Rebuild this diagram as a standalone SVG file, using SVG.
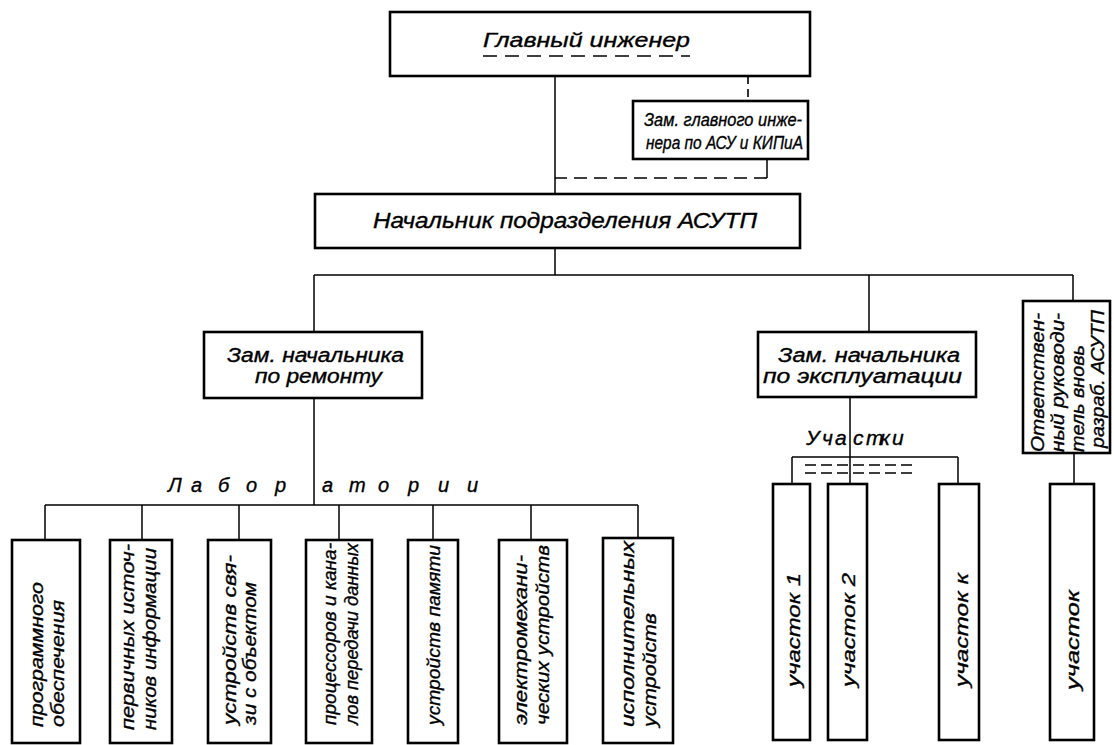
<svg xmlns="http://www.w3.org/2000/svg" width="1114" height="745" viewBox="0 0 1114 745">
<style>
.box{fill:#fff;stroke:#000;stroke-width:2.6}
.ln{fill:none;stroke:#000;stroke-width:1.5}
.dash{fill:none;stroke:#000;stroke-width:1.6;stroke-dasharray:13 7}
.t{font-family:"Liberation Sans",Arial,sans-serif;font-style:italic;fill:#000;stroke:#000;stroke-width:0.35}
.h{font-size:20px}
.m{font-size:18px}
.r{font-size:19px}
</style>
<rect width="1114" height="745" fill="#fff"/>
<g id="connectors">
<line class="ln" x1="555" y1="76" x2="555" y2="194"/>
<line class="dash" x1="748" y1="76" x2="748" y2="101" style="stroke-dasharray:8 5"/>
<line class="ln" x1="767" y1="159" x2="767" y2="178"/>
<line class="dash" x1="767" y1="178" x2="555" y2="178"/>
<line class="ln" x1="555" y1="248" x2="555" y2="275"/>
<line class="ln" x1="314" y1="275" x2="1073" y2="275"/>
<line class="ln" x1="314" y1="275" x2="314" y2="332"/>
<line class="ln" x1="869" y1="275" x2="869" y2="332"/>
<line class="ln" x1="1073" y1="275" x2="1073" y2="301"/>
<line class="ln" x1="314" y1="398" x2="314" y2="505"/>
<line class="ln" x1="45" y1="505" x2="638" y2="505"/>
<line class="ln" x1="45" y1="505" x2="45" y2="540"/>
<line class="ln" x1="142" y1="505" x2="142" y2="540"/>
<line class="ln" x1="239" y1="505" x2="239" y2="540"/>
<line class="ln" x1="339" y1="505" x2="339" y2="540"/>
<line class="ln" x1="433" y1="505" x2="433" y2="540"/>
<line class="ln" x1="531" y1="505" x2="531" y2="540"/>
<line class="ln" x1="638" y1="505" x2="638" y2="538"/>
<line class="ln" x1="850" y1="397" x2="850" y2="484"/>
<line class="ln" x1="792" y1="457" x2="958" y2="457"/>
<line class="ln" x1="792" y1="457" x2="792" y2="484"/>
<line class="ln" x1="958" y1="457" x2="958" y2="484"/>
<line class="dash" x1="805" y1="465" x2="913" y2="465" style="stroke-dasharray:11 5"/>
<line class="dash" x1="805" y1="473" x2="913" y2="473" style="stroke-dasharray:11 5"/>
<line class="ln" x1="1074" y1="453" x2="1074" y2="484"/>
</g>
<g id="chief-engineer">
<rect class="box" x="390" y="12" width="420" height="64"/>
<text class="t" style="font-size:21px" x="483" y="47" textLength="207" lengthAdjust="spacingAndGlyphs">Главный  инженер</text>
<line class="dash" x1="483" y1="56" x2="690" y2="56" style="stroke-dasharray:14 8"/>
</g>
<g id="deputy-chief-engineer">
<rect class="box" x="633" y="101" width="175" height="58"/>
<text class="t m" x="644" y="126" textLength="158" lengthAdjust="spacingAndGlyphs">Зам. главного инже-</text>
<text class="t m" x="646" y="149" textLength="157" lengthAdjust="spacingAndGlyphs">нера по АСУ и КИПиА</text>
</g>
<g id="head-asutp">
<rect class="box" x="315" y="194" width="485" height="54"/>
<text class="t" style="font-size:22px" x="373" y="228" textLength="384" lengthAdjust="spacingAndGlyphs">Начальник  подразделения  АСУТП</text>
</g>
<g id="deputy-repair">
<rect class="box" x="204" y="332" width="218" height="66"/>
<text class="t h" x="227" y="362" textLength="177" lengthAdjust="spacingAndGlyphs">Зам. начальника</text>
<text class="t h" x="255" y="383" textLength="127" lengthAdjust="spacingAndGlyphs">по ремонту</text>
</g>
<g id="deputy-operation">
<rect class="box" x="758" y="332" width="218" height="65"/>
<text class="t h" x="778" y="362" textLength="182" lengthAdjust="spacingAndGlyphs">Зам. начальника</text>
<text class="t h" x="763" y="383" textLength="199" lengthAdjust="spacingAndGlyphs">по эксплуатации</text>
</g>
<g id="responsible-new">
<rect class="box" x="1023" y="301" width="87" height="152"/>
<text class="t m" transform="translate(1044,452) rotate(-90)" textLength="139" lengthAdjust="spacingAndGlyphs">Ответствен-</text>
<text class="t m" transform="translate(1064,452) rotate(-90)" textLength="139" lengthAdjust="spacingAndGlyphs">ный руководи-</text>
<text class="t m" transform="translate(1084,452) rotate(-90)" textLength="107" lengthAdjust="spacingAndGlyphs">тель  вновь</text>
<text class="t m" transform="translate(1104,448) rotate(-90)" textLength="138" lengthAdjust="spacingAndGlyphs">разраб. АСУТП</text>
</g>
<g id="labs-label">
<text class="t" style="font-size:20px" y="492" x="168 191 218 246 275 322 349 378 408 438 467">Лаборатории</text>
</g>
<g id="lab-1">
<rect class="box" x="12" y="540" width="68" height="203"/>
<text class="t r" transform="translate(43,727) rotate(-90)" textLength="145" lengthAdjust="spacingAndGlyphs">программного</text>
<text class="t r" transform="translate(64,727) rotate(-90)" textLength="127" lengthAdjust="spacingAndGlyphs">обеспечения</text>
</g>
<g id="lab-2">
<rect class="box" x="110" y="540" width="62" height="203"/>
<text class="t r" transform="translate(134,730) rotate(-90)" textLength="186" lengthAdjust="spacingAndGlyphs">первичных источ-</text>
<text class="t r" transform="translate(156,730) rotate(-90)" textLength="182" lengthAdjust="spacingAndGlyphs">ников информации</text>
</g>
<g id="lab-3">
<rect class="box" x="208" y="540" width="63" height="203"/>
<text class="t r" transform="translate(236,725) rotate(-90)" textLength="170" lengthAdjust="spacingAndGlyphs">устройств  свя-</text>
<text class="t r" transform="translate(256,725) rotate(-90)" textLength="143" lengthAdjust="spacingAndGlyphs">зи с объектом</text>
</g>
<g id="lab-4">
<rect class="box" x="306" y="540" width="66" height="203"/>
<text class="t r" transform="translate(336,725) rotate(-90)" textLength="182" lengthAdjust="spacingAndGlyphs">процессоров и кана-</text>
<text class="t r" transform="translate(358,725) rotate(-90)" textLength="182" lengthAdjust="spacingAndGlyphs">лов передачи данных</text>
</g>
<g id="lab-5">
<rect class="box" x="408" y="540" width="50" height="203"/>
<text class="t r" transform="translate(440,725) rotate(-90)" textLength="180" lengthAdjust="spacingAndGlyphs">устройств  памяти</text>
</g>
<g id="lab-6">
<rect class="box" x="499" y="540" width="68" height="203"/>
<text class="t r" transform="translate(527,725) rotate(-90)" textLength="170" lengthAdjust="spacingAndGlyphs">электромехани-</text>
<text class="t r" transform="translate(549,725) rotate(-90)" textLength="180" lengthAdjust="spacingAndGlyphs">ческих устройств</text>
</g>
<g id="lab-7">
<rect class="box" x="603" y="538" width="70" height="205"/>
<text class="t r" transform="translate(634,727) rotate(-90)" textLength="186" lengthAdjust="spacingAndGlyphs">исполнительных</text>
<text class="t r" transform="translate(656,727) rotate(-90)" textLength="114" lengthAdjust="spacingAndGlyphs">устройств</text>
</g>
<g id="sections-label">
<text class="t" style="font-size:21px" y="445" x="806 822 835 853 866 880 892">Участки</text>
</g>
<g id="section-1">
<rect class="box" x="773" y="484" width="37" height="256"/>
<text class="t r" transform="translate(800,687) rotate(-90)" textLength="114" lengthAdjust="spacingAndGlyphs">участок 1</text>
</g>
<g id="section-2">
<rect class="box" x="828" y="484" width="39" height="256"/>
<text class="t r" transform="translate(855,687) rotate(-90)" textLength="114" lengthAdjust="spacingAndGlyphs">участок 2</text>
</g>
<g id="section-k">
<rect class="box" x="939" y="484" width="40" height="256"/>
<text class="t r" transform="translate(968,687) rotate(-90)" textLength="114" lengthAdjust="spacingAndGlyphs">участок к</text>
</g>
<g id="section-new">
<rect class="box" x="1050" y="484" width="44" height="256"/>
<text class="t r" transform="translate(1079,690) rotate(-90)" textLength="100" lengthAdjust="spacingAndGlyphs">участок</text>
</g>
</svg>
